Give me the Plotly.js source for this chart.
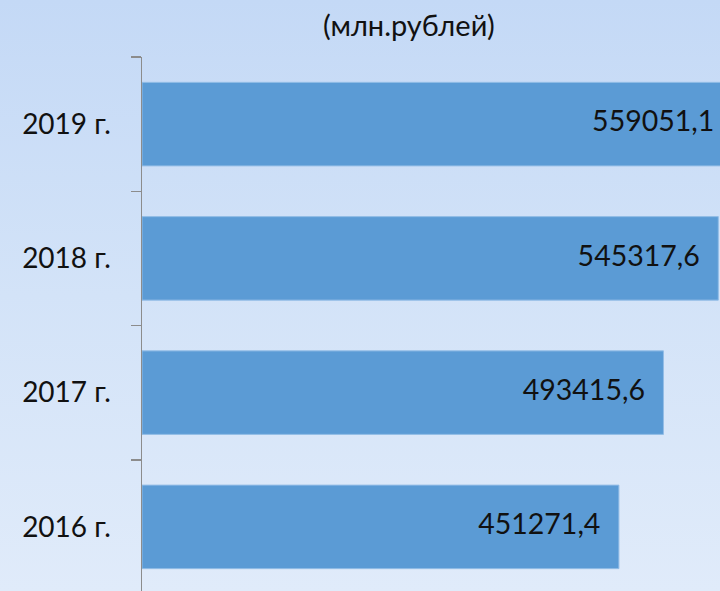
<!DOCTYPE html>
<html>
<head>
<meta charset="utf-8">
<script src="https://cdn.plot.ly/plotly-3.0.1.min.js"></script>
<style>
html, body { margin: 0; padding: 0; width: 720px; height: 591px; overflow: hidden; }
body { background: linear-gradient(180deg, #c4d9f6 0%, #d3e3f8 50%, #e0ebfa 100%); }
#chart { width: 760px; height: 600px; }
</style>
</head>
<body>
<div id="chart"></div>
<script>
var categories = ['2016 г.', '2017 г.', '2018 г.', '2019 г.'];
var values = [451271.4, 493415.6, 545317.6, 559051.1];
var subtitle = '(млн.рублей)';

var FONT = 'Lato, "Open Sans", sans-serif';

var bars = {
  type: 'bar',
  orientation: 'h',
  y: categories,
  x: values,
  marker: { color: '#5b9bd5', line: { color: '#93bde6', width: 1 } },
  hoverinfo: 'none'
};

var labels = {
  type: 'scatter',
  mode: 'markers+text',
  y: categories,
  x: values,
  texttemplate: '%{x:.1f}',
  textposition: 'middle left',
  textfont: { family: FONT, size: 28.5, color: '#111111' },
  marker: { size: 28, color: 'rgba(0,0,0,0)' },
  hoverinfo: 'none',
  cliponaxis: false
};

var layout = {
  width: 760,
  height: 600,
  margin: { l: 142, r: 0, t: 57, b: 6 },
  paper_bgcolor: 'rgba(0,0,0,0)',
  plot_bgcolor: 'rgba(0,0,0,0)',
  separators: ', ',
  bargap: 0.378,
  showlegend: false,
  font: { family: FONT, size: 28, color: '#111111' },
  title: {
    text: subtitle,
    xref: 'container', yref: 'container',
    x: 0.538, xanchor: 'center',
    y: 0.957, yanchor: 'middle',
    font: { family: FONT, size: 29, color: '#111111' }
  },
  xaxis: {
    range: [0, 584780],
    visible: false,
    showgrid: false,
    zeroline: false,
    fixedrange: true
  },
  yaxis: {
    type: 'category',
    categoryorder: 'array',
    categoryarray: categories,
    showline: true,
    linecolor: '#8c8c8c',
    linewidth: 1.5,
    ticks: 'outside',
    tickson: 'boundaries',
    ticklen: 10,
    tickwidth: 1.5,
    tickcolor: '#8c8c8c',
    ticklabelstandoff: 24,
    showgrid: false,
    zeroline: false,
    tickfont: { family: FONT, size: 28, color: '#111111' },
    fixedrange: true
  }
};

Plotly.newPlot('chart', [bars, labels], layout, { displayModeBar: false, staticPlot: true });
</script>
</body>
</html>
